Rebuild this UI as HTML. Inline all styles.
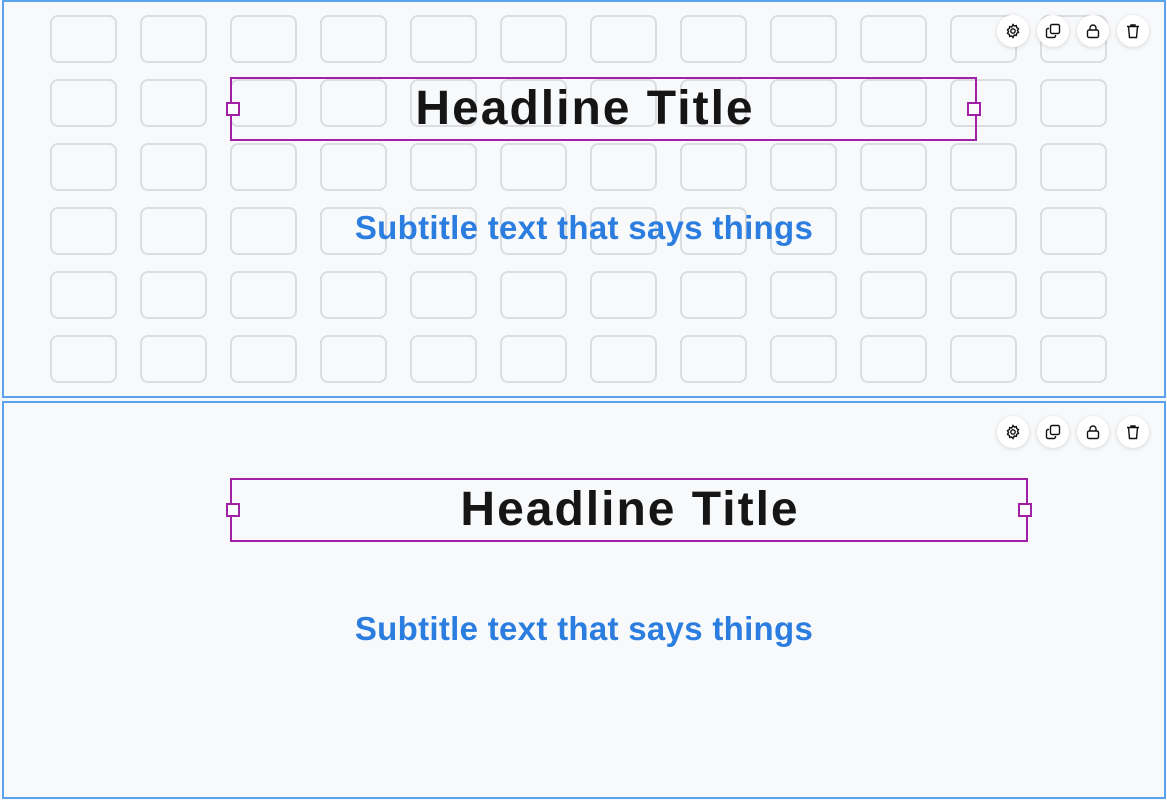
<!DOCTYPE html>
<html><head><meta charset="utf-8"><style>
body{margin:0;width:1167px;height:800px;background:#f8f9fb;position:relative;overflow:hidden;font-family:"Liberation Sans",sans-serif}
.panel{position:absolute;left:2px;width:1160px;border:2px solid #5ba3ec;background:#f8f9fb;overflow:hidden}
.tile{position:absolute;width:63px;height:44px;border:2px solid #dcdde1;border-radius:8px}
.sel{position:absolute;border:2px solid #a021a8;box-sizing:border-box}
.h{position:absolute;width:10px;height:10px;border:2px solid #a021a8;background:#fff;top:23px}
.t{position:absolute;font-weight:bold;font-size:48px;letter-spacing:2px;color:#151515;white-space:nowrap;transform:translateX(-50%)}
.s{position:absolute;font-weight:bold;font-size:33px;letter-spacing:0.3px;color:#2b7de0;white-space:nowrap;transform:translateX(-50%)}
.ic{position:absolute;width:32px;height:32px;border-radius:50%;background:#fff;box-shadow:0 1px 5px rgba(0,0,0,.15);display:flex;align-items:center;justify-content:center}
</style></head><body>
<div class="panel" style="top:0;height:394px" id="p1"></div>
<div class="panel" style="top:401px;height:394px" id="p2"></div>
<script>
var p1=document.getElementById('p1'),h='';
for(var r=0;r<6;r++)for(var c=0;c<12;c++)h+='<div class="tile" style="left:'+(46+c*90)+'px;top:'+(13+r*64)+'px"></div>';
p1.innerHTML=h;
</script>
<div class="sel" style="left:230px;top:77px;width:747px;height:64px"><div class="h" style="left:-6px"></div><div class="h" style="right:-6px"></div></div>
<div class="t" style="left:585px;top:81px">Headline Title</div>
<div class="s" style="left:584px;top:209px">Subtitle text that says things</div>
<div class="sel" style="left:230px;top:478px;width:798px;height:64px"><div class="h" style="left:-6px"></div><div class="h" style="right:-6px"></div></div>
<div class="t" style="left:630px;top:482px">Headline Title</div>
<div class="s" style="left:584px;top:610px">Subtitle text that says things</div>
<div id="icons"></div>
<script>
var svg=['<svg width="16" height="16" viewBox="0 0 16 16" fill="none" stroke="#111" stroke-width="1.4"><circle cx="8" cy="8" r="2.2"/><path d="M8 1.5l1.3 1.6 2-.5.4 2 1.8 1-1 1.9 1 1.9-1.8 1-.4 2-2-.5L8 14.5l-1.3-1.6-2 .5-.4-2-1.8-1 1-1.9-1-1.9 1.8-1 .4-2 2 .5z"/></svg>',
'<svg width="16" height="16" viewBox="0 0 16 16" fill="none" stroke="#111" stroke-width="1.4"><rect x="5.5" y="1.5" width="9" height="9" rx="1.5"/><path d="M4 5.5H3a1.5 1.5 0 0 0-1.5 1.5v6A1.5 1.5 0 0 0 3 14.5h6A1.5 1.5 0 0 0 10.5 13v-1"/></svg>',
'<svg width="16" height="16" viewBox="0 0 16 16" fill="none" stroke="#111" stroke-width="1.4"><rect x="2.5" y="7" width="11" height="7.5" rx="1.5"/><path d="M5 7V5a3 3 0 0 1 6 0v2"/></svg>',
'<svg width="16" height="16" viewBox="0 0 16 16" fill="none" stroke="#111" stroke-width="1.4"><path d="M2 3.5h12M6 3.5V2h4v1.5M3.5 3.5l1 11h7l1-11"/></svg>'];
var o='';[31,432].forEach(function(y){for(var i=0;i<4;i++)o+='<div class="ic" style="left:'+(997+i*40)+'px;top:'+(y-16)+'px">'+svg[i]+'</div>';});
document.getElementById('icons').innerHTML=o;
</script>
</body></html>
